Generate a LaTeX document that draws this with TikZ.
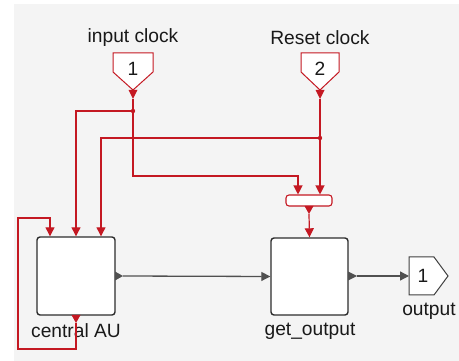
\documentclass[tikz,border=0pt]{standalone}
\usepackage{fontspec}
\setmainfont{Liberation Sans}
\usetikzlibrary{arrows.meta}
\definecolor{sred}{RGB}{196,24,34}
\definecolor{sgray}{RGB}{80,80,80}
\definecolor{bgc}{RGB}{244,244,244}
\definecolor{bord}{RGB}{45,45,45}
\begin{document}
\begin{tikzpicture}[x=1pt,y=-1pt,
  block/.style={draw=bord,line width=1.4pt,fill=white,rounded corners=3pt,inner sep=0pt},
  rline/.style={draw=sred,line width=1.2pt},
  gline/.style={draw=sgray,line width=1.3pt},
  rarr/.style={rline,-{Triangle[length=9pt,width=9pt]}},
  garr/.style={gline,-{Triangle[length=9pt,width=9pt]}},
  lbl/.style={font=\fontsize{19.2}{22}\selectfont,inner sep=0pt,text=black!90}]
\useasboundingbox (0,0) rectangle (459,361);
\fill[bgc] (14,4) rectangle (459,361);

% blocks
\node[block,minimum width=78pt,minimum height=78pt] (cau) at (76,276) {};
\node[block,minimum width=77pt,minimum height=77pt] (get) at (309.5,276.5) {};
\node[draw=sred,line width=1.1pt,fill=white,rounded corners=3pt,minimum width=46pt,minimum height=11pt,inner sep=0pt] (mux) at (309,200.5) {};

% inports
\draw[sred,line width=1pt,fill=white] (113,53) -- (153,53) -- (153,72) -- (133,90) -- (113,72) -- cycle;
\node[lbl] (n1) at (133,68.5) {1};
\draw[sred,line width=1pt,fill=white] (301,53) -- (339,53) -- (339,72) -- (320,90) -- (301,72) -- cycle;
\node[lbl] (n2) at (320,68.5) {2};
\coordinate (in1) at (133,99);
\coordinate (in2) at (320,99);
\fill[sred] (128.5,90) -- (137.5,90) -- (in1) -- cycle;
\fill[sred] (315.5,90) -- (324.5,90) -- (in2) -- cycle;

% outport
\draw[sgray!80!black,line width=1pt,fill=white] (409,257) -- (434,257) -- (448,276) -- (434,295) -- (409,295) -- cycle;
\node[lbl] (o1) at (423,276) {1};
\coordinate (out1) at (409,276);

% labels
\node[lbl] (l1) at (133,38) {input clock};
\node[lbl] (l2) at (320,38) {Reset clock};
\node[lbl] (l3) at (76,331) {central AU};
\node[lbl] (l4) at (310,331) {get\_output};
\node[lbl] (l5) at (429,311) {output};

% output markers
\coordinate (caubot) at (76,323);
\coordinate (mxbot) at (309,214);
\coordinate (caur) at (123,276);
\coordinate (getr) at (357,276);
\fill[sred] (71.5,315) -- (80.5,315) -- (caubot) -- cycle;
\fill[sred] (304.5,206) -- (313.5,206) -- (mxbot) -- cycle;
\fill[sgray] (115,271.5) -- (115,280.5) -- (caur) -- cycle;
\fill[sgray] (348,271.5) -- (348,280.5) -- (getr) -- cycle;

% junctions
\coordinate (j1) at (133,111);
\coordinate (j2) at (320,138);
\fill[sred] (j1) circle (2.2);
\fill[sred] (j2) circle (2.2);

% red connectors
\draw[rline] (in1) -- (j1);
\draw[rarr] (j1) -| (cau.north);
\draw[rarr] (j1) |- (298,176) -- ([xshift=-11pt]mux.north);
\draw[rline] (in2) -- (j2);
\draw[rarr] (j2) -- ([xshift=11pt]mux.north);
\draw[rarr] (j2) -| ([xshift=25pt]cau.north);
\draw[rarr] (caubot) |- (18,349) |- (50,218) -- ([xshift=-26pt]cau.north);
\draw[rarr] (mxbot) -- (get.north);

% gray connectors
\draw[garr] (caur) -- (get.west);
\draw[garr] (getr) -- (out1);
\end{tikzpicture}
\end{document}
